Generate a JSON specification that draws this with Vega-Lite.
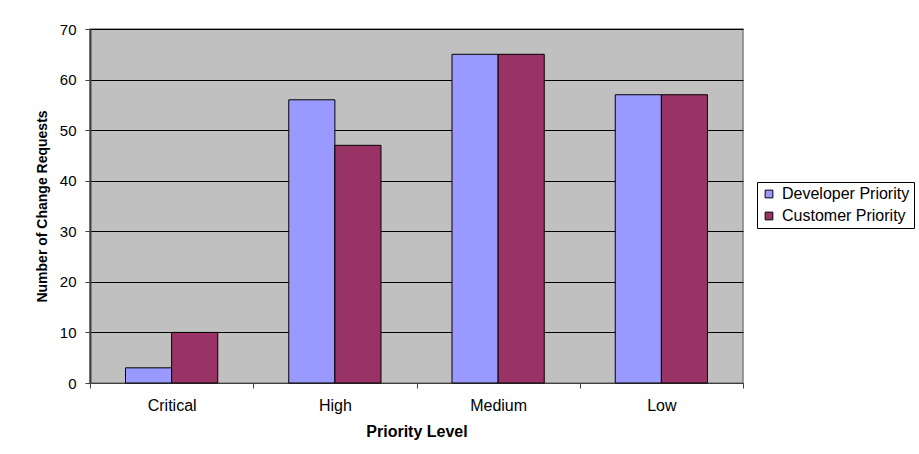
{
  "$schema": "https://vega.github.io/schema/vega-lite/v6.json",
  "width": 653,
  "height": 354,
  "autosize": {"type": "none"},
  "padding": {"left": 90, "top": 29, "right": 176, "bottom": 71},
  "background": "white",
  "data": {
    "values": [
      {"level": "Critical", "series": "Developer Priority", "value": 3},
      {"level": "Critical", "series": "Customer Priority", "value": 10},
      {"level": "High", "series": "Developer Priority", "value": 56},
      {"level": "High", "series": "Customer Priority", "value": 47},
      {"level": "Medium", "series": "Developer Priority", "value": 65},
      {"level": "Medium", "series": "Customer Priority", "value": 65},
      {"level": "Low", "series": "Developer Priority", "value": 57},
      {"level": "Low", "series": "Customer Priority", "value": 57}
    ]
  },
  "mark": {"type": "bar", "stroke": "black", "strokeWidth": 1},
  "encoding": {
    "x": {
      "field": "level",
      "type": "nominal",
      "sort": ["Critical", "High", "Medium", "Low"],
      "scale": {"paddingInner": 0, "paddingOuter": 0},
      "axis": {
        "title": "Priority Level",
        "labelAngle": 0,
        "tickBand": "extent",
        "domain": true,
        "domainColor": "#404040",
        "tickColor": "#404040",
        "tickSize": 5,
        "labelPadding": 9,
        "labelFontSize": 16,
        "titleFontSize": 16,
        "titleFontWeight": "bold",
        "titlePadding": 10,
        "grid": false
      }
    },
    "xOffset": {
      "field": "series",
      "type": "nominal",
      "sort": ["Developer Priority", "Customer Priority"],
      "scale": {"paddingInner": 0, "paddingOuter": 0.77}
    },
    "y": {
      "field": "value",
      "type": "quantitative",
      "scale": {"domain": [0, 70], "nice": false},
      "axis": {
        "title": "Number of Change Requests",
        "values": [0, 10, 20, 30, 40, 50, 60, 70],
        "grid": true,
        "gridColor": "black",
        "gridWidth": 1,
        "domainColor": "#404040",
        "domainWidth": 2,
        "tickColor": "#404040",
        "tickSize": 5,
        "labelPadding": 9,
        "labelFontSize": 15,
        "titleFontSize": 14,
        "titleFontWeight": "bold",
        "titlePadding": 10
      }
    },
    "color": {
      "field": "series",
      "type": "nominal",
      "sort": ["Developer Priority", "Customer Priority"],
      "scale": {"range": ["#9999FF", "#993366"]},
      "legend": {
        "title": null,
        "orient": "none",
        "legendX": 667,
        "legendY": 153,
        "direction": "vertical",
        "padding": 4,
        "strokeColor": "black",
        "fillColor": "white",
        "cornerRadius": 0,
        "symbolType": "square",
        "symbolSize": 60,
        "symbolStrokeColor": "black",
        "symbolStrokeWidth": 1,
        "symbolOpacity": 1,
        "labelFontSize": 16,
        "labelColor": "black",
        "labelOffset": 5,
        "rowPadding": 6
      }
    }
  },
  "config": {
    "font": "Liberation Sans",
    "view": {"fill": "#C0C0C0", "stroke": "#808080", "strokeWidth": 1.5},
    "axis": {"labelColor": "black", "titleColor": "black", "labelFont": "Liberation Sans", "titleFont": "Liberation Sans"}
  }
}
